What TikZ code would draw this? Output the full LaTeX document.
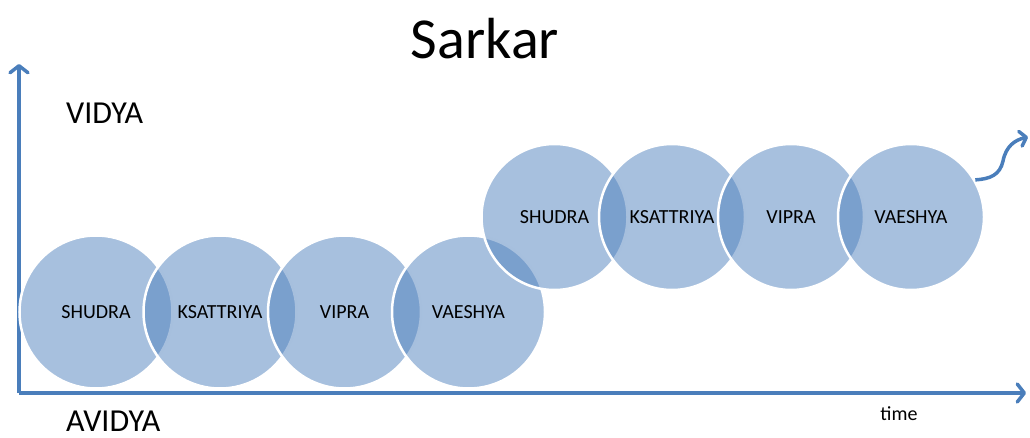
\documentclass[tikz,border=0pt]{standalone}
\usepackage{fontspec}
\setmainfont{Carlito}
\usetikzlibrary{arrows.meta}
\definecolor{axisblue}{HTML}{4A7EBB}
\definecolor{accent}{HTML}{4F81BD}
\tikzset{
  circ/.style={circle, inner sep=0pt, fill=accent, fill opacity=0.5, text opacity=1,
    draw=white, line width=2.5pt, font=\fontsize{20}{24}\selectfont, text=black},
  axisline/.style={draw=axisblue, line width=3.5pt,
    -{Straight Barb[length=7pt,width=18pt,round]}},
  biglabel/.style={font=\fontsize{32}{38}\selectfont, anchor=west, inner sep=0pt},
}
\begin{document}
\begin{tikzpicture}[x=1pt,y=1pt]
\useasboundingbox (0,0) rectangle (1030,437);
% axes
\coordinate (origin) at (19,44);
\coordinate (ytop) at (19,373);
\coordinate (xend) at (1026,44);
\draw[axisline] (origin) -- (ytop);
\draw[axisline] (origin) -- (xend);
% title and labels
\node[font=\fontsize{58}{66}\selectfont, inner sep=0pt] (title) at (485,398) {Sarkar};
\node[biglabel] (vidya) at (66,324) {VIDYA};
\node[biglabel] (avidya) at (66,16) {AVIDYA};
\node[font=\fontsize{20}{24}\selectfont, inner sep=0pt] (time) at (899,23) {time};
% bottom row
\node[circ, minimum size=153pt] (b1) at (96,125) {SHUDRA};
\node[circ, minimum size=153pt] (b2) at (220,125) {KSATTRIYA};
\node[circ, minimum size=153pt] (b3) at (344.5,125) {VIPRA};
\node[circ, minimum size=153pt] (b4) at (468.5,125) {VAESHYA};
% top row
\node[circ, minimum size=146pt] (t1) at (554.5,220) {SHUDRA};
\node[circ, minimum size=146pt] (t2) at (672,220) {KSATTRIYA};
\node[circ, minimum size=146pt] (t3) at (791,220) {VIPRA};
\node[circ, minimum size=146pt] (t4) at (911,220) {VAESHYA};
% curved arrow
\coordinate (tipend) at (1028,300);
\draw[draw=axisblue, line width=3.5pt, -{Straight Barb[length=6pt,width=15pt,round]}]
  (t4.30) .. controls (990,258) and (1000,262) .. (1003,276)
  .. controls (1006,291) and (1015,297) .. (tipend);
\end{tikzpicture}
\end{document}
